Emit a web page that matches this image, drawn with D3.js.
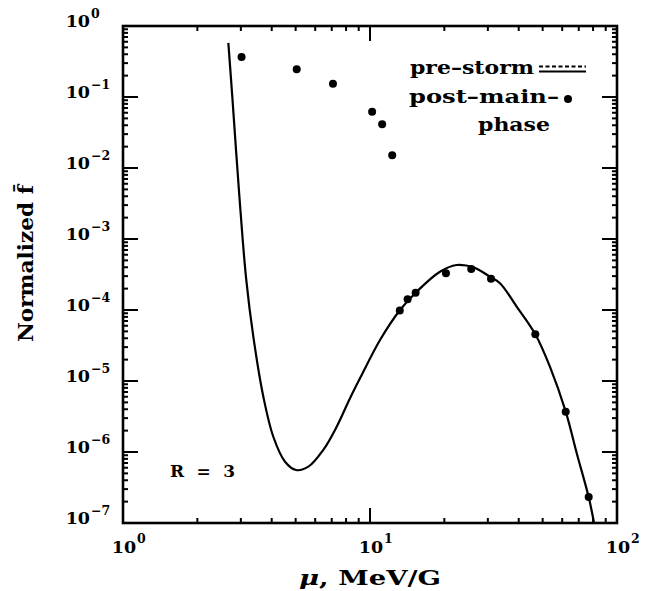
<!DOCTYPE html>
<html>
<head>
<meta charset="utf-8">
<script src="https://cdn.jsdelivr.net/npm/d3@7"></script>
<style>
  body { margin: 0; background: #fff; }
  svg text { font-family: "DejaVu Serif", serif; font-weight: bold; fill: #000; }
</style>
</head>
<body>
<svg id="chart"></svg>
<script>
// pre-storm curve (mu in MeV/G, normalized f)
const curveMu = [2.67, 2.77, 2.96, 3.15, 3.37, 3.70, 4.06, 4.53, 5.02, 5.63, 6.47, 7.33, 8.30, 9.11,
                 10.98, 13.23, 15.45, 19.2, 22.4, 26.2, 30.6, 33.6, 39.3, 46.7, 53.5, 62.0, 68.7, 76.8, 80.7];
const curveF = [0.58, 0.101, 3.94e-3, 2.82e-4, 4.21e-5, 6.01e-6, 1.64e-6, 7.3e-7, 5.57e-7, 6.21e-7,
                1.07e-6, 2.27e-6, 5.71e-6, 1.09e-5, 3.78e-5, 1.0e-4, 1.81e-4, 3.46e-4, 4.3e-4, 3.99e-4,
                2.94e-4, 2.38e-4, 1.11e-4, 4.55e-5, 1.59e-5, 3.70e-6, 9.6e-7, 2.32e-7, 1.01e-7];

// post-main-phase points
const postMu = [3.02, 5.05, 7.08, 10.2, 11.2, 12.3, 13.2, 14.2, 15.3, 20.3, 25.7, 30.9, 46.7, 62.0, 76.8];
const postF = [0.366, 0.245, 0.154, 0.062, 0.0412, 0.0151, 9.8e-5, 1.42e-4, 1.75e-4, 3.29e-4,
               3.78e-4, 2.76e-4, 4.55e-5, 3.70e-6, 2.32e-7];

// tick labels (powers of ten)
const xExp = [0, 1, 2];
const yExp = [0, -1, -2, -3, -4, -5, -6, -7];

let width = 650, height = 591;
let plot = {left: 123, right: 617, top: 26, bottom: 523};
let minorLen = 5, majorLen = 15;

const svg = d3.select("#chart").attr("width", width).attr("height", height);

let x = d3.scaleLog().domain([1, 100]).range([plot.left, plot.right]);
let y = d3.scaleLog().domain([1e-7, 1]).range([plot.bottom, plot.top]);

let xMajor = xExp.map(e => Math.pow(10, e));
let yMajor = yExp.map(e => Math.pow(10, e));
let xMinor = x.ticks().filter(v => !xMajor.some(m => Math.abs(m / v - 1) < 1e-6));
let yMinor = y.ticks().filter(v => !yMajor.some(m => Math.abs(m / v - 1) < 1e-6));

// inward ticks on all four sides
const ticks = svg.append("g").attr("stroke", "#000").attr("stroke-width", 2);

function xTicks(vals, len) {
  ticks.selectAll(null).data(vals).enter().append("line")
    .attr("x1", d => x(d)).attr("x2", d => x(d))
    .attr("y1", plot.bottom).attr("y2", plot.bottom - len);
  ticks.selectAll(null).data(vals).enter().append("line")
    .attr("x1", d => x(d)).attr("x2", d => x(d))
    .attr("y1", plot.top).attr("y2", plot.top + len);
}
function yTicks(vals, len) {
  ticks.selectAll(null).data(vals).enter().append("line")
    .attr("y1", d => y(d)).attr("y2", d => y(d))
    .attr("x1", plot.left).attr("x2", plot.left + len);
  ticks.selectAll(null).data(vals).enter().append("line")
    .attr("y1", d => y(d)).attr("y2", d => y(d))
    .attr("x1", plot.right).attr("x2", plot.right - len);
}
xTicks(xMinor, minorLen); xTicks(xMajor, majorLen);
yTicks(yMinor, minorLen); yTicks(yMajor, majorLen);

// frame
svg.append("rect")
  .attr("x", plot.left).attr("y", plot.top)
  .attr("width", plot.right - plot.left).attr("height", plot.bottom - plot.top)
  .attr("fill", "none").attr("stroke", "#000").attr("stroke-width", 2.6);

// tick labels
xExp.forEach(e => {
  let px = x(Math.pow(10, e));
  svg.append("text").attr("x", px + 1).attr("y", 553)
    .attr("text-anchor", "middle").attr("font-size", 17.5).text("10");
  svg.append("text").attr("x", px + 14).attr("y", 543)
    .attr("font-size", 12.5).text(e);
});
yExp.forEach(e => {
  let py = y(Math.pow(10, e));
  svg.append("text").attr("x", 90).attr("y", py + 1)
    .attr("text-anchor", "end").attr("font-size", 17.5).text("10");
  svg.append("text").attr("x", 91).attr("y", py - 8)
    .attr("font-size", 12.5).text(e === 0 ? "0" : "\u2212" + Math.abs(e));
});

// axis titles
svg.append("text")
  .attr("x", 299).attr("y", 585).attr("font-size", 20)
  .attr("textLength", 142).attr("lengthAdjust", "spacingAndGlyphs")
  .html('<tspan font-style="italic">\u03bc</tspan>, MeV/G');

const yl = svg.append("text")
  .attr("transform", "translate(33,342) rotate(-90)")
  .attr("font-size", 20)
  .attr("textLength", 157).attr("lengthAdjust", "spacingAndGlyphs");
yl.append("tspan").text("Normalized ");
yl.append("tspan").text("f\u0304");

// curve
svg.append("clipPath").attr("id", "clip")
  .append("rect").attr("x", plot.left).attr("y", plot.top)
  .attr("width", plot.right - plot.left).attr("height", plot.bottom - plot.top);

let line = d3.line()
  .x((d, i) => x(curveMu[i]))
  .y(d => y(d))
  .curve(d3.curveCatmullRom.alpha(0.5));

svg.append("path")
  .datum(curveF)
  .attr("clip-path", "url(#clip)")
  .attr("d", line)
  .attr("fill", "none").attr("stroke", "#000").attr("stroke-width", 2.2);

// points
svg.selectAll("circle.post")
  .data(postF)
  .enter()
  .append("circle")
  .attr("class", "post")
  .attr("cx", (d, i) => x(postMu[i]))
  .attr("cy", d => y(d))
  .attr("r", 4)
  .attr("fill", "#000");

// legend
svg.append("text").attr("x", 410).attr("y", 74).attr("font-size", 19)
  .attr("textLength", 124).attr("lengthAdjust", "spacingAndGlyphs").text("pre\u2013storm");
svg.append("line").attr("x1", 539).attr("x2", 586).attr("y1", 66.5).attr("y2", 66.5)
  .attr("stroke", "#000").attr("stroke-width", 1.8).attr("stroke-dasharray", "4,2.5");
svg.append("line").attr("x1", 539).attr("x2", 586).attr("y1", 71.5).attr("y2", 71.5)
  .attr("stroke", "#000").attr("stroke-width", 1.8);

svg.append("text").attr("x", 409).attr("y", 103).attr("font-size", 19)
  .attr("textLength", 150).attr("lengthAdjust", "spacingAndGlyphs").text("post\u2013main\u2013");
svg.append("circle").attr("cx", 568).attr("cy", 99).attr("r", 4).attr("fill", "#000");
svg.append("text").attr("x", 478).attr("y", 131).attr("font-size", 19)
  .attr("textLength", 72).attr("lengthAdjust", "spacingAndGlyphs").text("phase");

svg.append("text").attr("x", 170).attr("y", 477).attr("font-size", 17)
  .attr("textLength", 65).attr("lengthAdjust", "spacing").text("R = 3");
</script>
</body>
</html>
